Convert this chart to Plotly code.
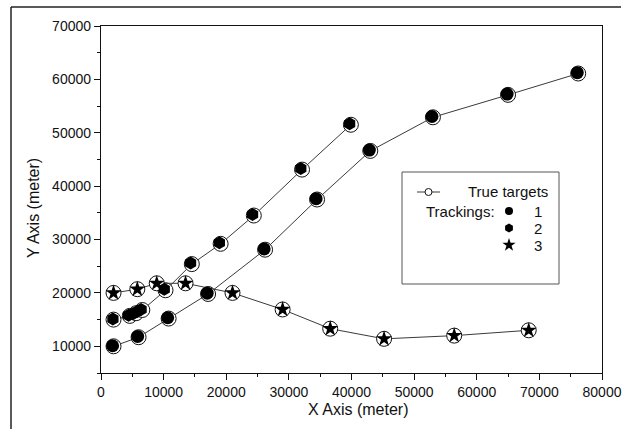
import plotly.graph_objects as go

# ---- data (meters) ----
true_a_x = [2000, 4600, 5600, 6600, 10300, 14500, 19100, 24400, 32100, 39900]
true_a_y = [15000, 15700, 16200, 16800, 20500, 25400, 29200, 34500, 43100, 51500]
track2_x = [1900, 4400, 5100, 5800, 6400, 10100, 14300, 18900, 24200, 31900, 39700]
track2_y = [15100, 15800, 16100, 16500, 16900, 20700, 25600, 29400, 34700, 43300, 51700]

true_b_x = [2000, 6000, 10800, 17100, 26200, 34500, 43000, 53000, 65000, 76200]
true_b_y = [10000, 11700, 15200, 19800, 28100, 37500, 46600, 52900, 57100, 61100]
track1_x = [1850, 5850, 10650, 16950, 26050, 34350, 42850, 52850, 64850, 76050]
track1_y = [10100, 11850, 15350, 19950, 28250, 37650, 46750, 53050, 57250, 61250]

true_c_x = [2000, 5800, 8900, 13500, 21000, 29000, 36600, 45200, 56400, 68300]
true_c_y = [20000, 20700, 21800, 21800, 20000, 16900, 13300, 11400, 12000, 13000]
track3_x = [2000, 5800, 8900, 13500, 21000, 29000, 36600, 45200, 56400, 68300]
track3_y = [20000, 20700, 21800, 21800, 20000, 16900, 13300, 11400, 12000, 13000]

x_ticks = [0, 10000, 20000, 30000, 40000, 50000, 60000, 70000, 80000]
y_ticks = [10000, 20000, 30000, 40000, 50000, 60000, 70000]

FONT = "Liberation Sans, Arial, sans-serif"
LINE = "#3a3a3a"

fig = go.Figure()

def true_trace(xs, ys):
    return go.Scatter(x=xs, y=ys, mode="lines+markers",
                      line=dict(color=LINE, width=1),
                      marker=dict(symbol="circle", size=15, color="white",
                                  line=dict(color="#111", width=1)),
                      showlegend=False, hoverinfo="skip")

fig.add_trace(true_trace(true_a_x, true_a_y))
fig.add_trace(true_trace(true_b_x, true_b_y))
fig.add_trace(true_trace(true_c_x, true_c_y))

fig.add_trace(go.Scatter(x=track2_x, y=track2_y, mode="markers",
                         marker=dict(symbol="hexagon", size=13, color="black"),
                         showlegend=False))
fig.add_trace(go.Scatter(x=track1_x, y=track1_y, mode="markers",
                         marker=dict(symbol="circle", size=13, color="black"),
                         showlegend=False))
fig.add_trace(go.Scatter(x=track3_x, y=track3_y, mode="markers",
                         marker=dict(symbol="star", size=12, color="black"),
                         showlegend=False))

# ---- custom legend drawn on an overlay 0..1 axis ----
def px2x(px):
    return (px - 101) / 501.0

def py2y(py):
    return (373 - py) / 347.0

fig.add_trace(go.Scatter(x=[px2x(417), px2x(440)], y=[py2y(192), py2y(192)],
                         mode="lines", line=dict(color=LINE, width=1),
                         xaxis="x2", yaxis="y2", showlegend=False, hoverinfo="skip"))
fig.add_trace(go.Scatter(x=[px2x(428.5)], y=[py2y(192)], mode="markers",
                         marker=dict(symbol="circle", size=7, color="white",
                                     line=dict(color="#111", width=1)),
                         xaxis="x2", yaxis="y2", showlegend=False, hoverinfo="skip"))
for sym, py, sz in [("circle", 211, 8), ("hexagon", 228, 9), ("star", 245, 10)]:
    fig.add_trace(go.Scatter(x=[px2x(509)], y=[py2y(py)], mode="markers",
                             marker=dict(symbol=sym, size=sz, color="black"),
                             xaxis="x2", yaxis="y2", showlegend=False, hoverinfo="skip"))

ann = []
def txt(t, px, py, anchor="left", size=15):
    ann.append(dict(text=t, x=px2x(px), y=py2y(py), xref="paper", yref="paper",
                    xanchor=anchor, yanchor="middle", showarrow=False,
                    font=dict(family=FONT, size=size, color="#111")))

txt("True targets", 466, 192)
txt("Trackings:", 424, 211)
txt("1", 538, 211, "center")
txt("2", 538, 228, "center")
txt("3", 538, 245, "center")

# axis titles
ann.append(dict(text="X Axis (meter)", x=px2x(358), y=py2y(409), xref="paper", yref="paper",
                xanchor="center", yanchor="middle", showarrow=False,
                font=dict(family=FONT, size=16, color="#111")))
ann.append(dict(text="Y Axis (meter)", x=px2x(33), y=py2y(208), xref="paper", yref="paper",
                xanchor="center", yanchor="middle", showarrow=False, textangle=-90,
                font=dict(family=FONT, size=16, color="#111")))

shapes = [
    # legend box
    dict(type="rect", xref="paper", yref="paper",
         x0=px2x(402), x1=px2x(559), y0=py2y(284), y1=py2y(172),
         line=dict(color="#555", width=1), fillcolor="rgba(0,0,0,0)"),
    # outer frame (top and left edges visible)
    dict(type="line", xref="paper", yref="paper",
         x0=px2x(11), x1=px2x(621), y0=py2y(7), y1=py2y(7),
         line=dict(color="#222", width=1.5)),
    dict(type="line", xref="paper", yref="paper",
         x0=px2x(11), x1=px2x(11), y0=py2y(7), y1=py2y(429),
         line=dict(color="#222", width=1.5)),
]

axis_common = dict(showline=True, linecolor="#111", linewidth=1.3, mirror=True,
                   ticks="outside", ticklen=6, tickwidth=1.2, tickcolor="#111",
                   showgrid=False, zeroline=False, automargin=False,
                   tickfont=dict(family=FONT, size=14, color="#111"),
                   minor=dict(ticks="outside", ticklen=3, tickwidth=1, tickcolor="#111",
                              dtick=5000, showgrid=False))

fig.update_layout(
    width=622, height=430,
    margin=dict(l=101, r=20, t=26, b=57),
    paper_bgcolor="white", plot_bgcolor="white",
    xaxis=dict(range=[0, 80000], tickmode="array", tickvals=x_ticks,
               ticktext=[str(v) for v in x_ticks], **axis_common),
    yaxis=dict(range=[5000, 70000], tickmode="array", tickvals=y_ticks,
               ticktext=[str(v) for v in y_ticks], **axis_common),
    xaxis2=dict(overlaying="x", range=[0, 1], visible=False, fixedrange=True),
    yaxis2=dict(overlaying="y", range=[0, 1], visible=False, fixedrange=True),
    annotations=ann, shapes=shapes, showlegend=False,
)

fig.write_html("out.html", config={"displayModeBar": False},
               post_script="document.body.style.margin='0';document.body.style.overflow='hidden';")
